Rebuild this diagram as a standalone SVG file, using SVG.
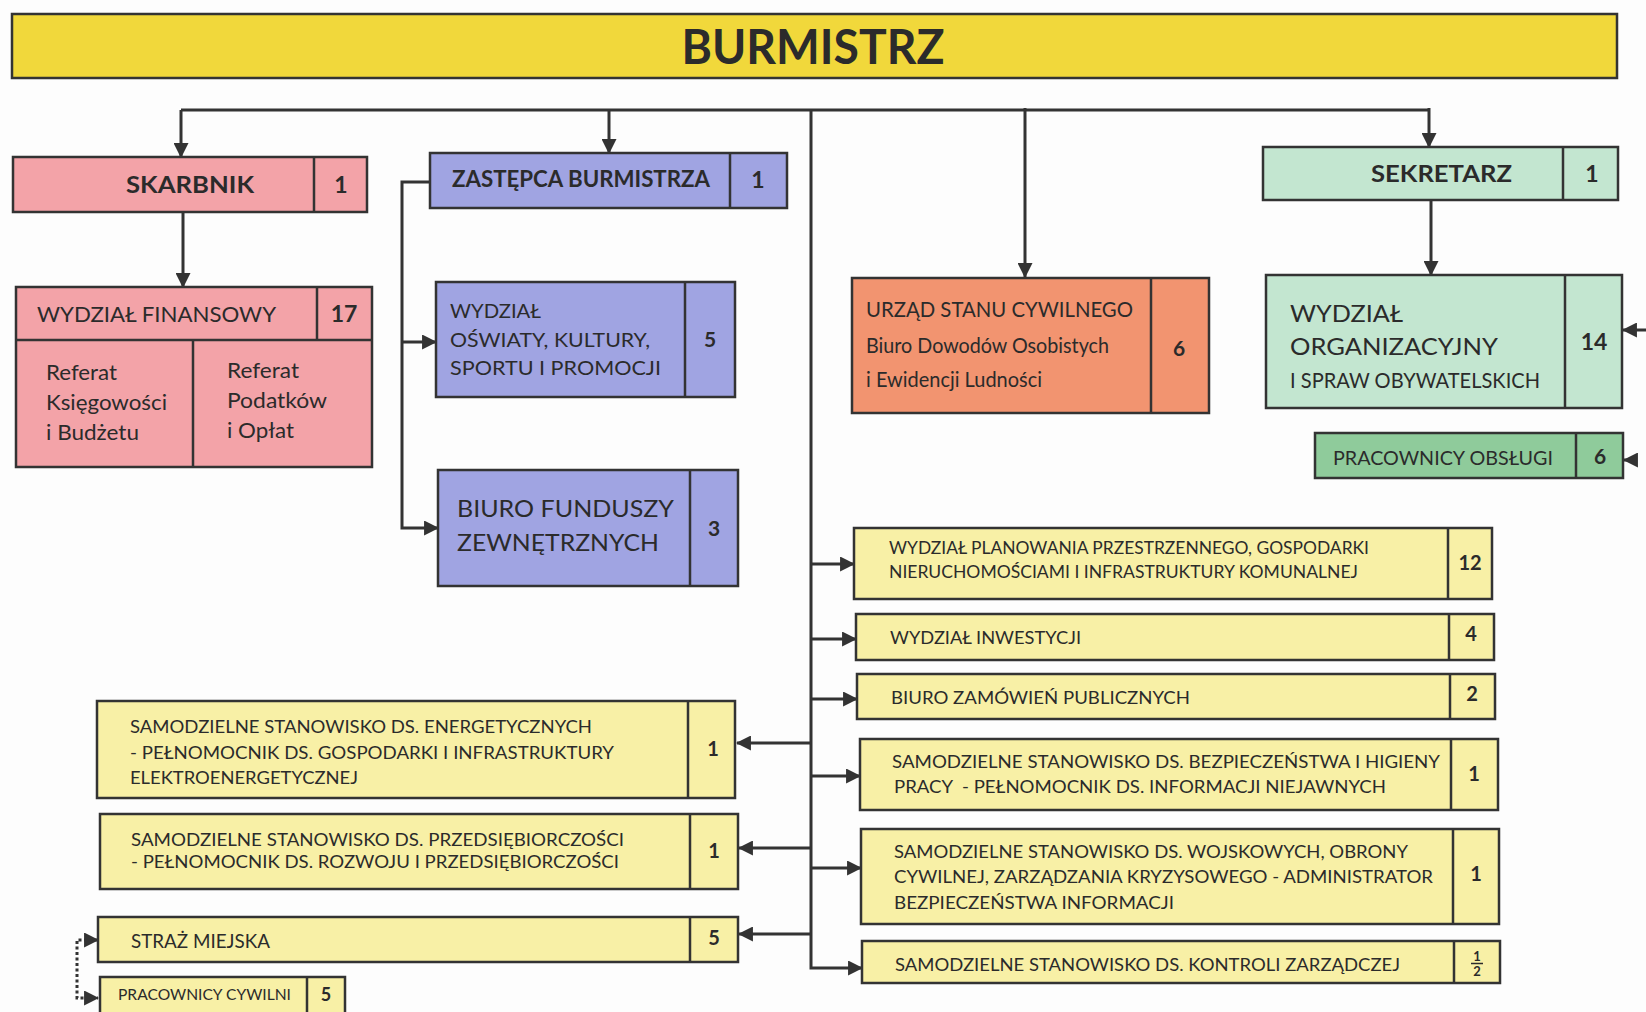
<svg xmlns="http://www.w3.org/2000/svg" width="1646" height="1012" viewBox="0 0 1646 1012">
<style>
.b{stroke:#333;stroke-width:2.5}
.d{stroke:#333;stroke-width:2.5;fill:none}
.t{font-family:Lato,"Open Sans","Liberation Sans",sans-serif;fill:#2b2b2b}
.n{font-family:Lato,"Open Sans","Liberation Sans",sans-serif;fill:#2b2b2b;font-weight:bold;text-anchor:middle}
.y{fill:#f8f0a6}
.pk{fill:#f3a3a8}
.bl{fill:#a0a4e2}
.gr{fill:#c3e6d0}
.c{stroke:#333;stroke-width:3;fill:none}
</style>
<defs>
<marker id="ah" viewBox="0 0 14 14" refX="13" refY="7" markerWidth="15" markerHeight="15" markerUnits="userSpaceOnUse" orient="auto-start-reverse">
<path d="M0,0 L14,7 L0,14 Z" fill="#333"/>
</marker>
</defs>
<rect width="1646" height="1012" fill="#fdfdfd"/>

<g id="connectors">
<path class="c" d="M181,110 H1429"/>
<path class="c" d="M181,110 V157" marker-end="url(#ah)"/>
<path class="c" d="M609,110 V153" marker-end="url(#ah)"/>
<path class="c" d="M1025,108 V277" marker-end="url(#ah)"/>
<path class="c" d="M1429,108 V147" marker-end="url(#ah)"/>
<path class="c" d="M811,110 V968 H862" marker-end="url(#ah)"/>
<path class="c" d="M811,564 H854" marker-end="url(#ah)"/>
<path class="c" d="M811,639 H856" marker-end="url(#ah)"/>
<path class="c" d="M811,699 H857" marker-end="url(#ah)"/>
<path class="c" d="M811,776 H860" marker-end="url(#ah)"/>
<path class="c" d="M811,868 H861" marker-end="url(#ah)"/>
<path class="c" d="M811,743 H737" marker-end="url(#ah)"/>
<path class="c" d="M811,848 H739" marker-end="url(#ah)"/>
<path class="c" d="M811,934 H739" marker-end="url(#ah)"/>
<path class="c" d="M183,212 V287" marker-end="url(#ah)"/>
<path class="c" d="M1431,200 V275" marker-end="url(#ah)"/>
<path class="c" d="M430,182 H402 V528 H438" marker-end="url(#ah)"/>
<path class="c" d="M402,342 H436" marker-end="url(#ah)"/>
<path class="c" d="M1646,330 H1623" marker-end="url(#ah)"/>
<path class="c" d="M1637,460 H1624" marker-end="url(#ah)"/>
<path class="c" d="M98,940 H77 V998 H98" stroke-dasharray="3 2.5" marker-start="url(#ah)" marker-end="url(#ah)"/>
</g>

<g id="burmistrz">
<rect class="b" x="12" y="14" width="1605" height="64" fill="#f1d83b"/>
<text class="n" x="813" y="64" font-size="47" textLength="263" lengthAdjust="spacingAndGlyphs">BURMISTRZ</text>
</g>

<g id="skarbnik">
<rect class="b pk" x="13" y="157" width="354" height="55"/>
<line class="d" x1="314" y1="157" x2="314" y2="212"/>
<text class="t" x="126" y="193" font-size="23" font-weight="bold" textLength="128" lengthAdjust="spacingAndGlyphs">SKARBNIK</text>
<text class="n" x="341" y="193" font-size="23">1</text>
</g>

<g id="wydzial-finansowy">
<rect class="b pk" x="16" y="287" width="356" height="180"/>
<line class="d" x1="16" y1="340" x2="372" y2="340"/>
<line class="d" x1="317" y1="287" x2="317" y2="340"/>
<line class="d" x1="193" y1="340" x2="193" y2="467"/>
<text class="t" x="37" y="322" font-size="21" textLength="239" lengthAdjust="spacingAndGlyphs">WYDZIAŁ FINANSOWY</text>
<text class="n" x="344" y="322" font-size="23">17</text>
<text class="t" x="46" y="380" font-size="21" textLength="71" lengthAdjust="spacingAndGlyphs">Referat</text>
<text class="t" x="46" y="410" font-size="21" textLength="121" lengthAdjust="spacingAndGlyphs">Księgowości</text>
<text class="t" x="46" y="440" font-size="21" textLength="93" lengthAdjust="spacingAndGlyphs">i Budżetu</text>
<text class="t" x="227" y="378" font-size="21" textLength="72" lengthAdjust="spacingAndGlyphs">Referat</text>
<text class="t" x="227" y="408" font-size="21" textLength="100" lengthAdjust="spacingAndGlyphs">Podatków</text>
<text class="t" x="227" y="438" font-size="21" textLength="67" lengthAdjust="spacingAndGlyphs">i Opłat</text>
</g>

<g id="zastepca">
<rect class="b bl" x="430" y="153" width="357" height="55"/>
<line class="d" x1="730" y1="153" x2="730" y2="208"/>
<text class="t" x="452" y="187" font-size="23" font-weight="bold" textLength="258" lengthAdjust="spacingAndGlyphs">ZASTĘPCA BURMISTRZA</text>
<text class="n" x="758" y="188" font-size="23">1</text>
</g>

<g id="wydzial-oswiaty">
<rect class="b bl" x="436" y="282" width="299" height="115"/>
<line class="d" x1="685" y1="282" x2="685" y2="397"/>
<text class="t" x="450" y="318" font-size="20" textLength="91" lengthAdjust="spacingAndGlyphs">WYDZIAŁ</text>
<text class="t" x="450" y="347" font-size="20" textLength="200" lengthAdjust="spacingAndGlyphs">OŚWIATY, KULTURY,</text>
<text class="t" x="450" y="375" font-size="20" textLength="211" lengthAdjust="spacingAndGlyphs">SPORTU I PROMOCJI</text>
<text class="n" x="710" y="347" font-size="21">5</text>
</g>

<g id="biuro-funduszy">
<rect class="b bl" x="438" y="470" width="300" height="116"/>
<line class="d" x1="690" y1="470" x2="690" y2="586"/>
<text class="t" x="457" y="517" font-size="24" textLength="217" lengthAdjust="spacingAndGlyphs">BIURO FUNDUSZY</text>
<text class="t" x="457" y="551" font-size="24" textLength="202" lengthAdjust="spacingAndGlyphs">ZEWNĘTRZNYCH</text>
<text class="n" x="714" y="536" font-size="21">3</text>
</g>

<g id="usc">
<rect class="b" x="852" y="278" width="357" height="135" fill="#f29470"/>
<line class="d" x1="1151" y1="278" x2="1151" y2="413"/>
<text class="t" x="866" y="317" font-size="22" textLength="267" lengthAdjust="spacingAndGlyphs">URZĄD STANU CYWILNEGO</text>
<text class="t" x="866" y="353" font-size="21" textLength="243" lengthAdjust="spacingAndGlyphs">Biuro Dowodów Osobistych</text>
<text class="t" x="866" y="387" font-size="21" textLength="176" lengthAdjust="spacingAndGlyphs">i Ewidencji Ludności</text>
<text class="n" x="1179" y="356" font-size="21">6</text>
</g>

<g id="sekretarz">
<rect class="b gr" x="1263" y="147" width="355" height="53"/>
<line class="d" x1="1563" y1="147" x2="1563" y2="200"/>
<text class="t" x="1371" y="182" font-size="23" font-weight="bold" textLength="141" lengthAdjust="spacingAndGlyphs">SEKRETARZ</text>
<text class="n" x="1592" y="182" font-size="23">1</text>
</g>

<g id="wydzial-organizacyjny">
<rect class="b gr" x="1266" y="275" width="356" height="133"/>
<line class="d" x1="1565" y1="275" x2="1565" y2="408"/>
<text class="t" x="1290" y="322" font-size="24" textLength="113" lengthAdjust="spacingAndGlyphs">WYDZIAŁ</text>
<text class="t" x="1290" y="355" font-size="24" textLength="208" lengthAdjust="spacingAndGlyphs">ORGANIZACYJNY</text>
<text class="t" x="1290" y="388" font-size="21" textLength="250" lengthAdjust="spacingAndGlyphs">I SPRAW OBYWATELSKICH</text>
<text class="n" x="1594" y="350" font-size="23">14</text>
</g>

<g id="pracownicy-obslugi">
<rect class="b" x="1315" y="433" width="308" height="45" fill="#8fcb9b"/>
<line class="d" x1="1576" y1="433" x2="1576" y2="478"/>
<text class="t" x="1333" y="465" font-size="19" textLength="220" lengthAdjust="spacingAndGlyphs">PRACOWNICY OBSŁUGI</text>
<text class="n" x="1600" y="464" font-size="21">6</text>
</g>

<g id="ss-energetycznych">
<rect class="b y" x="97" y="701" width="638" height="97"/>
<line class="d" x1="688" y1="701" x2="688" y2="798"/>
<text class="t" x="130" y="733" font-size="17" textLength="462" lengthAdjust="spacingAndGlyphs">SAMODZIELNE STANOWISKO DS. ENERGETYCZNYCH</text>
<text class="t" x="130" y="759" font-size="17" textLength="484" lengthAdjust="spacingAndGlyphs">- PEŁNOMOCNIK DS. GOSPODARKI I INFRASTRUKTURY</text>
<text class="t" x="130" y="784" font-size="17" textLength="228" lengthAdjust="spacingAndGlyphs">ELEKTROENERGETYCZNEJ</text>
<text class="n" x="713" y="756" font-size="20">1</text>
</g>

<g id="ss-przedsiebiorczosci">
<rect class="b y" x="100" y="814" width="638" height="75"/>
<line class="d" x1="690" y1="814" x2="690" y2="889"/>
<text class="t" x="131" y="846" font-size="17" textLength="493" lengthAdjust="spacingAndGlyphs">SAMODZIELNE STANOWISKO DS. PRZEDSIĘBIORCZOŚCI</text>
<text class="t" x="131" y="868" font-size="17" textLength="488" lengthAdjust="spacingAndGlyphs">- PEŁNOMOCNIK DS. ROZWOJU I PRZEDSIĘBIORCZOŚCI</text>
<text class="n" x="714" y="858" font-size="20">1</text>
</g>

<g id="straz-miejska">
<rect class="b y" x="98" y="917" width="640" height="45"/>
<line class="d" x1="690" y1="917" x2="690" y2="962"/>
<text class="t" x="131" y="948" font-size="19" textLength="139" lengthAdjust="spacingAndGlyphs">STRAŻ MIEJSKA</text>
<text class="n" x="714" y="945" font-size="20">5</text>
</g>

<g id="pracownicy-cywilni">
<rect class="b y" x="100" y="977" width="245" height="45"/>
<line class="d" x1="307" y1="977" x2="307" y2="1022"/>
<text class="t" x="118" y="1000" font-size="16" textLength="173" lengthAdjust="spacingAndGlyphs">PRACOWNICY CYWILNI</text>
<text class="n" x="326" y="1001" font-size="18">5</text>
</g>

<g id="wydzial-planowania">
<rect class="b y" x="854" y="528" width="638" height="71"/>
<line class="d" x1="1448" y1="528" x2="1448" y2="599"/>
<text class="t" x="889" y="554" font-size="17" textLength="480" lengthAdjust="spacingAndGlyphs">WYDZIAŁ PLANOWANIA PRZESTRZENNEGO, GOSPODARKI</text>
<text class="t" x="889" y="578" font-size="17" textLength="469" lengthAdjust="spacingAndGlyphs">NIERUCHOMOŚCIAMI I INFRASTRUKTURY KOMUNALNEJ</text>
<text class="n" x="1470" y="570" font-size="20">12</text>
</g>

<g id="wydzial-inwestycji">
<rect class="b y" x="856" y="614" width="638" height="46"/>
<line class="d" x1="1449" y1="614" x2="1449" y2="660"/>
<text class="t" x="890" y="644" font-size="17" textLength="191" lengthAdjust="spacingAndGlyphs">WYDZIAŁ INWESTYCJI</text>
<text class="n" x="1471" y="641" font-size="20">4</text>
</g>

<g id="biuro-zamowien">
<rect class="b y" x="857" y="674" width="638" height="45"/>
<line class="d" x1="1450" y1="674" x2="1450" y2="719"/>
<text class="t" x="891" y="704" font-size="17" textLength="299" lengthAdjust="spacingAndGlyphs">BIURO ZAMÓWIEŃ PUBLICZNYCH</text>
<text class="n" x="1472" y="701" font-size="20">2</text>
</g>

<g id="ss-bhp">
<rect class="b y" x="860" y="739" width="638" height="71"/>
<line class="d" x1="1451" y1="739" x2="1451" y2="810"/>
<text class="t" x="892" y="768" font-size="17" textLength="548" lengthAdjust="spacingAndGlyphs">SAMODZIELNE STANOWISKO DS. BEZPIECZEŃSTWA I HIGIENY</text>
<text class="t" x="894" y="793" font-size="17" xml:space="preserve" textLength="492" lengthAdjust="spacingAndGlyphs">PRACY  - PEŁNOMOCNIK DS. INFORMACJI NIEJAWNYCH</text>
<text class="n" x="1474" y="781" font-size="20">1</text>
</g>

<g id="ss-wojskowych">
<rect class="b y" x="861" y="829" width="638" height="95"/>
<line class="d" x1="1453" y1="829" x2="1453" y2="924"/>
<text class="t" x="894" y="858" font-size="17" textLength="514" lengthAdjust="spacingAndGlyphs">SAMODZIELNE STANOWISKO DS. WOJSKOWYCH, OBRONY</text>
<text class="t" x="894" y="883" font-size="17" textLength="539" lengthAdjust="spacingAndGlyphs">CYWILNEJ, ZARZĄDZANIA KRYZYSOWEGO - ADMINISTRATOR</text>
<text class="t" x="894" y="909" font-size="17" textLength="280" lengthAdjust="spacingAndGlyphs">BEZPIECZEŃSTWA INFORMACJI</text>
<text class="n" x="1476" y="881" font-size="20">1</text>
</g>

<g id="ss-kontroli">
<rect class="b y" x="862" y="941" width="638" height="42"/>
<line class="d" x1="1454" y1="941" x2="1454" y2="983"/>
<text class="t" x="895" y="971" font-size="17" textLength="505" lengthAdjust="spacingAndGlyphs">SAMODZIELNE STANOWISKO DS. KONTROLI ZARZĄDCZEJ</text>
<text class="n" x="1477" y="961" font-size="13">1</text>
<line x1="1471" y1="963.5" x2="1483" y2="963.5" stroke="#2b2b2b" stroke-width="1.5"/>
<text class="n" x="1477" y="976" font-size="13">2</text>
</g>
</svg>
